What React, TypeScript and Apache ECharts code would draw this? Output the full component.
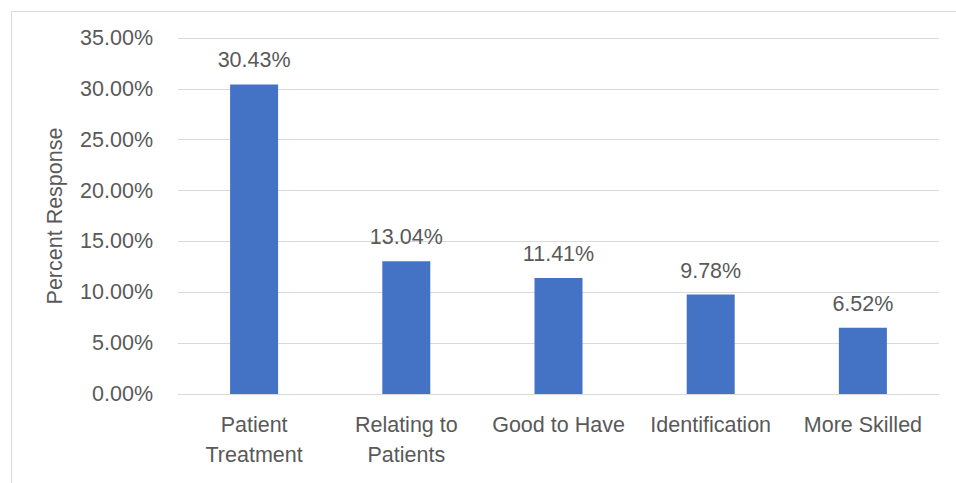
import React, { useEffect, useRef } from "react";
import * as echarts from "echarts";

const categories = ["Patient\nTreatment", "Relating to\nPatients", "Good to Have", "Identification", "More Skilled"];
const values = [30.43, 13.04, 11.41, 9.78, 6.52];
const yAxisName = "Percent Response";
const yMin = 0;
const yMax = 35;
const yInterval = 5;

const FONT = "'Liberation Sans', Arial, sans-serif";
const TEXT = "#595959";
const FS = 21.5;

export default function App() {
  const ref = useRef<HTMLDivElement>(null);
  useEffect(() => {
    if (!ref.current) return;
    const chart = echarts.init(ref.current, undefined, { renderer: "svg" });
    chart.setOption({
      animation: false,
      backgroundColor: "#ffffff",
      textStyle: { fontFamily: FONT },
      graphic: [
        {
          type: "rect",
          left: 9,
          top: 9,
          shape: { width: 1000, height: 1000 },
          style: { fill: "none", stroke: "#D9D9D9", lineWidth: 1 },
          silent: true,
          z: -1,
        },
      ],
      grid: { left: 178, right: 17, top: 38, bottom: 89, containLabel: false },
      xAxis: {
        type: "category",
        data: categories,
        axisLine: { show: true, lineStyle: { color: "#D9D9D9", width: 1 } },
        axisTick: { show: false },
        axisLabel: {
          color: TEXT,
          fontSize: FS,
          fontFamily: FONT,
          lineHeight: 30,
          margin: 16,
          interval: 0,
        },
      },
      yAxis: {
        type: "value",
        min: yMin,
        max: yMax,
        interval: yInterval,
        name: yAxisName,
        nameLocation: "middle",
        nameGap: 112,
        nameRotate: 90,
        nameTextStyle: { color: TEXT, fontSize: FS, fontFamily: FONT },
        axisLine: { show: false },
        axisTick: { show: false },
        splitLine: { lineStyle: { color: "#D9D9D9", width: 1 } },
        axisLabel: {
          color: TEXT,
          fontSize: FS,
          fontFamily: FONT,
          margin: 25,
          formatter: (v: number) => v.toFixed(2) + "%",
        },
      },
      series: [
        {
          type: "bar",
          data: values,
          barWidth: 48,
          itemStyle: { color: "#4472C4" },
          label: {
            show: true,
            position: "top",
            distance: 13,
            color: TEXT,
            fontSize: FS,
            fontFamily: FONT,
            formatter: (p: any) => p.value.toFixed(2) + "%",
          },
        },
      ],
    });
    return () => chart.dispose();
  }, []);
  return (
    <div
      ref={ref}
      style={{ position: "absolute", left: 0, top: 0, width: 956, height: 483 }}
    />
  );
}
